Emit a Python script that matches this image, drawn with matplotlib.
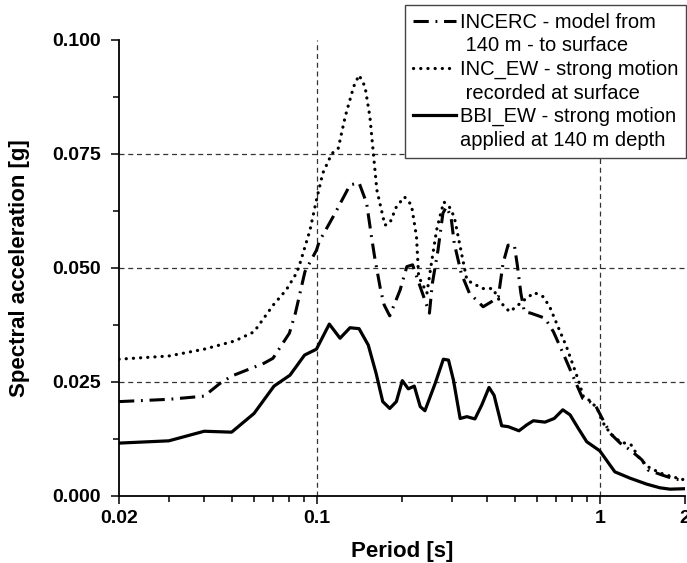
import matplotlib
matplotlib.use("Agg")
import matplotlib.pyplot as plt
from matplotlib.lines import Line2D
from matplotlib.ticker import FixedLocator, NullFormatter, FixedFormatter

plt.rcParams['font.family'] = ['Liberation Sans', 'DejaVu Sans']

# ---- data ----
bbi_period = [0.020, 0.030, 0.040, 0.050, 0.060, 0.0706, 0.0804, 0.0905, 0.0997, 0.1107,
              0.1208, 0.131, 0.141, 0.152, 0.162, 0.171, 0.181, 0.191, 0.2005, 0.2105,
              0.221, 0.232, 0.241, 0.262, 0.280, 0.292, 0.304, 0.321, 0.339, 0.362,
              0.383, 0.406, 0.423, 0.450, 0.475, 0.518, 0.552, 0.582, 0.640, 0.690,
              0.740, 0.785, 0.840, 0.899, 1.00, 1.13, 1.28, 1.465, 1.63, 1.77, 2.0]
bbi_sa = [0.0116, 0.0121, 0.0142, 0.0140, 0.0181, 0.0241, 0.0265, 0.0309, 0.0322, 0.0377,
          0.0346, 0.0369, 0.0367, 0.0331, 0.0269, 0.0207, 0.0192, 0.0207, 0.0253, 0.0235,
          0.0241, 0.0196, 0.0187, 0.0247, 0.0300, 0.0298, 0.0254, 0.0170, 0.0174, 0.0169,
          0.0200, 0.0238, 0.0221, 0.0154, 0.0152, 0.0143, 0.0156, 0.0165, 0.0162, 0.0170,
          0.0189, 0.0178, 0.0148, 0.0119, 0.0099, 0.0053, 0.0039, 0.0026, 0.0018, 0.0015, 0.0016]

inc_period = [0.020, 0.030, 0.040, 0.0513, 0.060, 0.0702, 0.078, 0.085, 0.0876, 0.0946,
              0.0997, 0.105, 0.113, 0.119, 0.126, 0.135, 0.141, 0.148, 0.154, 0.158,
              0.163, 0.174, 0.181, 0.191, 0.204, 0.216, 0.225, 0.229, 0.245, 0.254,
              0.265, 0.272, 0.281, 0.294, 0.306, 0.321, 0.339, 0.356, 0.387, 0.419,
              0.444, 0.480, 0.506, 0.541, 0.587, 0.631, 0.665, 0.712, 0.763, 0.840,
              0.875, 0.933, 0.984, 1.02, 1.09, 1.18, 1.29, 1.37, 1.48, 1.64, 1.81, 2.0]
inc_sa = [0.0300, 0.0307, 0.0322, 0.0340, 0.0360, 0.0419, 0.0452, 0.0490, 0.0514, 0.0583,
          0.0649, 0.0708, 0.0751, 0.0762, 0.0832, 0.0898, 0.0923, 0.0898, 0.0832, 0.0759,
          0.0671, 0.0594, 0.0598, 0.0634, 0.0656, 0.0638, 0.0569, 0.0481, 0.0445, 0.0510,
          0.0583, 0.0612, 0.0645, 0.0634, 0.0612, 0.0547, 0.0474, 0.0466, 0.0455, 0.0455,
          0.0426, 0.0404, 0.0415, 0.0430, 0.0446, 0.0437, 0.0415, 0.0371, 0.0327, 0.0254,
          0.0218, 0.0207, 0.0189, 0.0163, 0.0137, 0.0119, 0.0112, 0.0086, 0.0064, 0.0050, 0.0042, 0.0035]

incerc_period = [0.020, 0.030, 0.040, 0.0455, 0.050, 0.065, 0.070, 0.080, 0.084, 0.0876,
                 0.0908, 0.0997, 0.102, 0.116, 0.131, 0.141, 0.150, 0.156, 0.160, 0.168,
                 0.173, 0.181, 0.197, 0.208, 0.218, 0.234, 0.250, 0.256, 0.268, 0.279,
                 0.287, 0.298, 0.306, 0.324, 0.346, 0.387, 0.414, 0.438, 0.455, 0.474,
                 0.499, 0.512, 0.526, 0.541, 0.570, 0.640, 0.686, 0.755, 0.81, 0.87,
                 0.92, 0.97, 1.02, 1.09, 1.18, 1.28, 1.41, 1.48, 1.66, 1.84, 2.0]
incerc_sa = [0.0207, 0.0212, 0.0219, 0.0247, 0.0263, 0.0291, 0.0302, 0.0357, 0.0401, 0.0450,
             0.0492, 0.0539, 0.0558, 0.0620, 0.0682, 0.0687, 0.0642, 0.0569, 0.0525, 0.0452,
             0.0419, 0.0395, 0.0452, 0.0503, 0.0507, 0.0452, 0.0401, 0.0466, 0.0539, 0.0620,
             0.0634, 0.0612, 0.0554, 0.0488, 0.0445, 0.0415, 0.0426, 0.0437, 0.0510, 0.0550,
             0.0550, 0.0503, 0.0445, 0.0404, 0.0401, 0.0390, 0.0360, 0.0302, 0.0258, 0.0214,
             0.0207, 0.0196, 0.0170, 0.0137, 0.0116, 0.0101, 0.0079, 0.0057, 0.0046, 0.0037, 0.0035]

x_major = [0.02, 0.1, 1, 2]
x_major_labels = ['0.02', '0.1', '1', '2']
x_minor = [0.03, 0.04, 0.05, 0.06, 0.07, 0.08, 0.09, 0.2, 0.3, 0.4, 0.5, 0.6, 0.7, 0.8, 0.9]
y_major = [0.0, 0.025, 0.05, 0.075, 0.1]
y_major_labels = ['0.000', '0.025', '0.050', '0.075', '0.100']
y_minor = [0.0125, 0.0375, 0.0625, 0.0875]
x_grid = [0.1, 1]
y_grid = [0.025, 0.05, 0.075]

legend_labels = ['INCERC - model from', ' 140 m - to surface',
                 'INC_EW - strong motion', ' recorded at surface',
                 'BBI_EW - strong motion', 'applied at 140 m depth']

# ---- figure ----
fig = plt.figure(figsize=(6.87, 5.63), dpi=100)
ax = fig.add_axes([119/687, 1-496/563, 566/687, 456/563])

ax.set_xscale('log')
ax.set_xlim(0.02, 2)
ax.set_ylim(0, 0.1)

for xv in x_grid:
    ax.axvline(xv, color='#333333', lw=0.9, ls=(0, (4, 3)), zorder=1)
for yv in y_grid:
    ax.axhline(yv, color='#333333', lw=0.9, ls=(0, (4, 3)), zorder=1)

l_incerc, = ax.plot(incerc_period, incerc_sa, color='black', lw=2.2,
                    ls=(0, (5, 2.2, 0.6, 2.2)), zorder=3)
l_inc, = ax.plot(inc_period, inc_sa, color='black', lw=2.3,
                 ls=(0, (0.05, 2.2)), dash_capstyle='round', zorder=3)
l_bbi, = ax.plot(bbi_period, bbi_sa, color='black', lw=2.3, ls='-', zorder=3)

ax.xaxis.set_major_locator(FixedLocator(x_major))
ax.xaxis.set_major_formatter(FixedFormatter(x_major_labels))
ax.xaxis.set_minor_locator(FixedLocator(x_minor))
ax.xaxis.set_minor_formatter(NullFormatter())
ax.yaxis.set_major_locator(FixedLocator(y_major))
ax.yaxis.set_major_formatter(FixedFormatter(y_major_labels))
ax.yaxis.set_minor_locator(FixedLocator(y_minor))

ax.tick_params(axis='both', which='major', direction='out', length=6, width=1.1,
               labelsize=14)
ax.tick_params(axis='x', which='major', pad=4)
ax.tick_params(axis='y', which='major', pad=7)
ax.tick_params(axis='both', which='minor', direction='out', length=4, width=1.1)
for lab in ax.get_xticklabels() + ax.get_yticklabels():
    lab.set_fontweight('bold')

ax.spines['top'].set_visible(False)
ax.spines['right'].set_visible(False)
ax.spines['left'].set_linewidth(1.3)
ax.spines['bottom'].set_linewidth(1.3)

ax.set_xlabel('Period [s]', fontsize=16, fontweight='bold', labelpad=10)
ax.set_ylabel('Spectral acceleration [g]', fontsize=16, fontweight='bold')
ax.yaxis.set_label_coords(-0.157, 0.5)

blank = Line2D([], [], color='none')
handles = [l_incerc, blank, l_inc, blank, l_bbi, blank]
leg = fig.legend(handles, legend_labels, loc='upper right',
                 bbox_to_anchor=(686/687, 1-5/563), borderaxespad=0,
                 fontsize=14.5, frameon=True, fancybox=False, framealpha=1,
                 edgecolor='#444444', handlelength=2.1, handletextpad=0.2,
                 labelspacing=0.22, borderpad=0.4)
leg.get_frame().set_linewidth(1.0)
leg.set_zorder(5)

fig.savefig('out.png', dpi=100)
